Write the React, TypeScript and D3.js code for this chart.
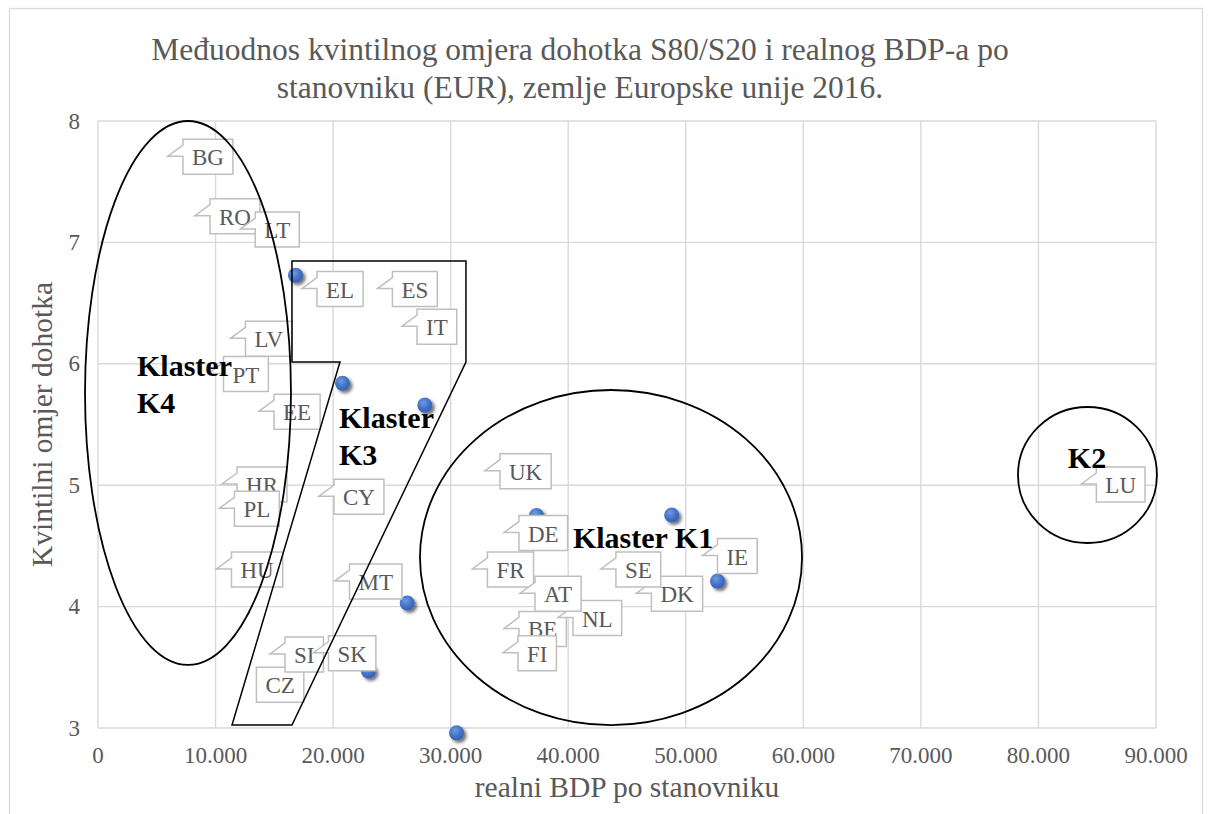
import React from "react";
import * as d3 from "d3";

// Axis domains / ticks
const xTicks = [0, 10000, 20000, 30000, 40000, 50000, 60000, 70000, 80000, 90000];
const yTicks = [3, 4, 5, 6, 7, 8];

// Visible data points (real GDP per capita, S80/S20)
const pointGdp = [16800, 20800, 27800, 26300, 23000, 30500, 37300, 48800, 52700];
const pointRatio = [6.73, 5.84, 5.66, 4.03, 3.47, 2.96, 4.75, 4.755, 4.21];

// Data callout labels (tip of callout in data coordinates), in drawing order
const labelCodes = ["BE","BG","CZ","DK","DE","EE","IE","EL","ES","FR","HR","IT","CY","LV","LU","HU","MT","NL","AT","PL","PT","RO","LT","SI","SK","FI","SE","UK"];
const labelGdp = [34530, 5950, 12200, 45800, 34530, 13700, 51420, 17350, 23770, 31850, 10550, 25860, 18800, 11270, 83650, 10080, 20120, 39130, 35900, 10330, 9400, 8250, 12100, 14630, 18330, 34450, 42780, 32920];
const labelRatio = [3.82, 7.71, 3.36, 4.11, 4.61, 5.61, 4.42, 6.62, 6.62, 4.31, 5.01, 6.31, 4.91, 6.21, 5.01, 4.31, 4.21, 3.91, 4.11, 4.81, 5.92, 7.22, 7.11, 3.61, 3.62, 3.62, 4.31, 5.12];
// Labels whose callout pointer is hidden behind another label
const hiddenTails = ["CZ"];

// Cluster ellipses (center and radii in data units)
const ellipseCx = [7655, 43640, 84170];
const ellipseCy = [5.76, 4.404, 5.084];
const ellipseRx = [8760, 16250, 5910];
const ellipseRy = [2.24, 1.38, 0.56];

// Cluster K3 polygon (data units)
const polyGdp = [16500, 31300, 31300, 16500, 11400, 20585, 16500];
const polyRatio = [6.847, 6.847, 6.015, 3.025, 3.025, 6.015, 6.015];

// Cluster names
const clusterLines = [["Klaster", "K4"], ["Klaster", "K3"], ["Klaster K1"], ["K2"]];
const clusterGdp = [3320, 20500, 40400, 82500];
const clusterRatio = [5.9, 5.47, 4.48, 5.14];

const title1 = "Međuodnos kvintilnog omjera dohotka S80/S20 i realnog BDP-a po";
const title2 = "stanovniku (EUR), zemlje Europske unije 2016.";
const xTitle = "realni BDP po stanovniku";
const yTitle = "Kvintilni omjer dohotka";

const SERIF = "'Liberation Serif', 'Times New Roman', serif";
const GREY = "#595959";

const locale = d3.formatLocale({ decimal: ",", thousands: ".", grouping: [3], currency: ["", ""] });
const fmt = locale.format(",d");

let ctx: CanvasRenderingContext2D | null = null;
function textWidth(s: string, font: string): number {
  if (!ctx) {
    const c = document.createElement("canvas");
    ctx = c.getContext("2d");
  }
  if (!ctx) return s.length * 12;
  ctx.font = font;
  return ctx.measureText(s).width;
}

export default function App() {
  const W = 1214, H = 814;
  const x = d3.scaleLinear().domain([0, 90000]).range([98, 1156]);
  const y = d3.scaleLinear().domain([3, 8]).range([728, 121]);
  const [x0, x1] = x.range();
  const [y0, y1] = y.range();

  const polyPath = d3.line<number>()
    .x((_, i) => x(polyGdp[i]))
    .y((_, i) => y(polyRatio[i]))(polyGdp.map((_, i) => i)) + "Z";

  const labelFont = `23px ${SERIF}`;

  return (
    <svg width={W} height={H} style={{ position: "absolute", left: 0, top: 0, background: "#fff" }}>
      <defs>
        <radialGradient id="ptGrad" cx="40%" cy="35%" r="65%">
          <stop offset="0%" stopColor="#6e9be3" />
          <stop offset="60%" stopColor="#4472c4" />
          <stop offset="100%" stopColor="#3461b5" />
        </radialGradient>
        <filter id="shadow" x="-50%" y="-50%" width="200%" height="200%">
          <feDropShadow dx="2.5" dy="2.5" stdDeviation="1.8" floodColor="#000" floodOpacity="0.55" />
        </filter>
      </defs>
      <rect x={9.5} y={8.5} width={1193} height={830} fill="#fff" stroke="#d9d9d9" strokeWidth={1.3} />

      {/* Title */}
      <text x={580} y={60} textAnchor="middle" fontFamily={SERIF} fontSize={31.5} fill={GREY}>{title1}</text>
      <text x={580} y={98} textAnchor="middle" fontFamily={SERIF} fontSize={31.5} fill={GREY}>{title2}</text>

      {/* Grid */}
      <g stroke="#d9d9d9" strokeWidth={1.4}>
        {xTicks.map((t) => (
          <line key={"gx" + t} x1={x(t)} x2={x(t)} y1={y1} y2={y0} />
        ))}
        {yTicks.map((t) => (
          <line key={"gy" + t} x1={x0} x2={x1} y1={y(t)} y2={y(t)} />
        ))}
      </g>

      {/* Tick labels */}
      <g fontFamily={SERIF} fontSize={23} fill={GREY}>
        {xTicks.map((t) => (
          <text key={"tx" + t} x={x(t)} y={763} textAnchor="middle">{fmt(t)}</text>
        ))}
        {yTicks.map((t) => (
          <text key={"ty" + t} x={80} y={y(t) + 7.5} textAnchor="end">{t}</text>
        ))}
      </g>

      {/* Axis titles */}
      <text x={(x0 + x1) / 2} y={797} textAnchor="middle" fontFamily={SERIF} fontSize={29.5} fill={GREY}>{xTitle}</text>
      <text transform={`translate(51.5,${(y0 + y1) / 2}) rotate(-90)`} textAnchor="middle" fontFamily={SERIF} fontSize={29.5} fill={GREY}>{yTitle}</text>

      {/* Points */}
      <g>
        {pointGdp.map((g, i) => (
          <circle key={"p" + i} cx={x(g)} cy={y(pointRatio[i])} r={7.5} fill="url(#ptGrad)" filter="url(#shadow)" />
        ))}
      </g>

      {/* Callout labels */}
      <g>
        {labelCodes.map((code, i) => {
          const tx = x(labelGdp[i]);
          const ty = y(labelRatio[i]);
          const bx = tx + 15;
          const by = ty - 17;
          const w = textWidth(code, labelFont) + 18;
          const h = 35;
          const d = hiddenTails.includes(code)
            ? `M${bx},${by}H${bx + w}V${by + h}H${bx}Z`
            : `M${bx},${by}H${bx + w}V${by + h}H${bx}V${by + 17}L${tx},${ty}L${bx},${by + 6}Z`;
          return (
            <g key={"l" + code}>
              <path d={d} fill="#fff" stroke="#bfbfbf" strokeWidth={1.5} strokeLinejoin="miter" />
              <text x={bx + w / 2} y={by + 26} textAnchor="middle" fontFamily={SERIF} fontSize={23} fill={GREY}>{code}</text>
            </g>
          );
        })}
      </g>

      {/* Cluster shapes */}
      <g fill="none" stroke="#000">
        {ellipseCx.map((cx, i) => (
          <ellipse key={"e" + i} cx={x(cx)} cy={y(ellipseCy[i])}
            rx={x(ellipseRx[i]) - x(0)} ry={y(3) - y(3 + ellipseRy[i])} strokeWidth={1.8} />
        ))}
        <path d={polyPath} strokeWidth={1.5} strokeLinejoin="miter" />
      </g>

      {/* Cluster names */}
      <g fontFamily={SERIF} fontSize={30} fontWeight="bold" fill="#000">
        {clusterLines.map((lines, i) => (
          <text key={"c" + i} x={x(clusterGdp[i])} y={y(clusterRatio[i])}>
            {lines.map((ln, j) => (
              <tspan key={j} x={x(clusterGdp[i])} dy={j === 0 ? 0 : 37}>{ln}</tspan>
            ))}
          </text>
        ))}
      </g>
    </svg>
  );
}
